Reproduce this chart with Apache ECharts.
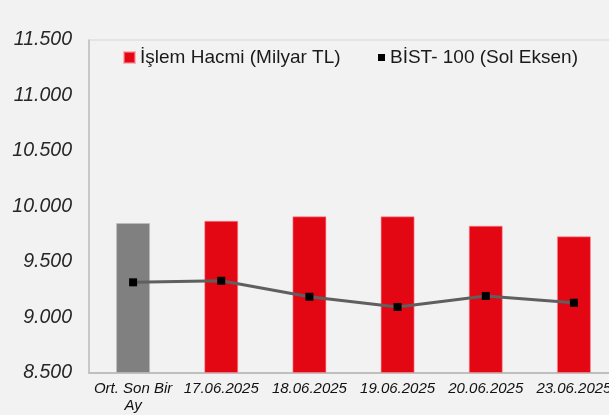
<!DOCTYPE html>
<html>
<head>
<meta charset="utf-8">
<script src="https://cdn.jsdelivr.net/npm/echarts@6/dist/echarts.min.js"></script>
<style>
html,body{margin:0;padding:0;background:#f2f2f2;}
#c{width:609px;height:415px;}
</style>
</head>
<body>
<div id="c"></div>
<script>
const categories = ['Ort. Son Bir\nAy', '17.06.2025', '18.06.2025', '19.06.2025', '20.06.2025', '23.06.2025'];
const volumeName = 'İşlem Hacmi (Milyar TL)';
const indexName = 'BİST- 100 (Sol Eksen)';
const volumeValues = [112.6, 114.3, 117.6, 117.6, 110.6, 102.6];
const bist100Values = [9317, 9331, 9187, 9095, 9194, 9133];
const leftTicks = [8500, 9000, 9500, 10000, 10500, 11000, 11500];

const chart = echarts.init(document.getElementById('c'), null, {renderer: 'canvas'});
function fmt(v){ return String(v).replace(/\B(?=(\d{3})+(?!\d))/g, '.'); }

chart.setOption({
  backgroundColor: '#f2f2f2',
  animation: false,
  textStyle: {fontFamily: 'Liberation Sans, Arial, sans-serif'},
  legend: [
    {
      data: [volumeName], left: 123, top: 47, padding: 0, itemWidth: 11, itemHeight: 11, icon: 'rect',
      textStyle: {fontSize: 19, color: '#1a1a1a', lineHeight: 21, fontFamily: 'Liberation Sans'}
    },
    {
      data: [{name: indexName, icon: 'rect', itemStyle: {color: '#000'}}], left: 378, top: 47, padding: 0, itemWidth: 7, itemHeight: 7,
      textStyle: {fontSize: 19, color: '#1a1a1a', lineHeight: 21, fontFamily: 'Liberation Sans'}
    }
  ],
  grid: {left: 89, top: 40, width: 529, bottom: 42, outerBoundsMode: 'none', containLabel: false, show: true, borderColor: '#d6d6d6', borderWidth: 1},
  xAxis: {
    type: 'category', data: categories,
    axisLine: {lineStyle: {color: '#bfbfbf', width: 2}},
    axisTick: {show: false},
    axisLabel: {fontSize: 15, fontStyle: 'italic', color: '#111', margin: 7, lineHeight: 17, interval: 0, fontFamily: 'Liberation Sans'}
  },
  yAxis: [
    {
      type: 'value', min: leftTicks[0], max: leftTicks[leftTicks.length-1], interval: 500,
      axisLine: {show: true, lineStyle: {color: '#bfbfbf', width: 1.5}},
      axisTick: {show: false},
      splitLine: {show: false},
      axisLabel: {fontSize: 19.5, fontStyle: 'italic', color: '#262626', margin: 17, formatter: fmt, fontFamily: 'Liberation Sans'}
    },
    {type: 'value', min: 0, max: 250, show: false, splitLine: {show: false}}
  ],
  series: [
    {
      name: volumeName, type: 'bar', yAxisIndex: 1, barWidth: 34,
      itemStyle: {color: '#e30613', borderColor: 'rgba(255,140,150,0.6)', borderWidth: 1},
      data: volumeValues.map((v, i) => i === 0 ? {value: v, itemStyle: {color: '#808080', borderColor: 'rgba(190,190,190,0.7)'}} : v),
      z: 2
    },
    {
      name: indexName, type: 'line', yAxisIndex: 0,
      data: bist100Values,
      symbol: 'rect', symbolSize: 8,
      itemStyle: {color: '#000'},
      lineStyle: {color: '#5f5f5f', width: 3},
      z: 3
    }
  ]
});
</script>
</body>
</html>
